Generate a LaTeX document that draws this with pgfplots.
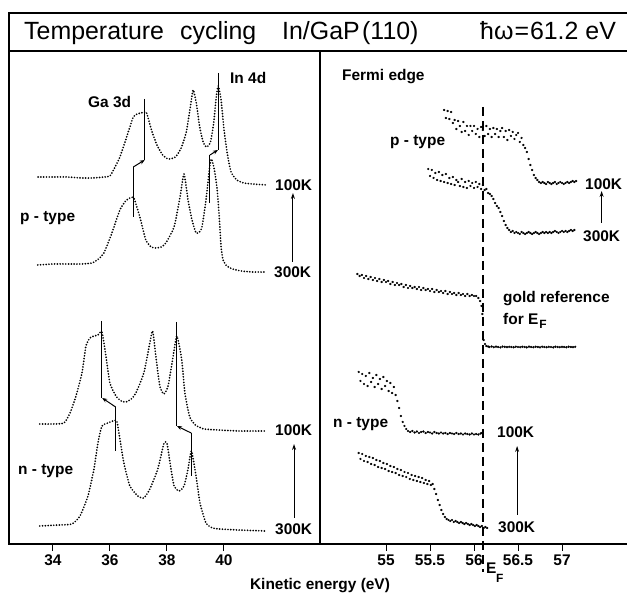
\documentclass[border=0pt]{standalone}
\usepackage{fontspec}
\setmainfont{Liberation Sans}
\usepackage{pgfplots}
\pgfplotsset{compat=1.18}
\usetikzlibrary{arrows.meta}
\newcommand\lab{\fontsize{15.5}{17}\selectfont\bfseries}
\newcommand\ttl{\fontsize{25}{28}\selectfont}
\pgfplotsset{
  panel/.style={scale only axis, height=493bp, ymin=0, ymax=493,
    clip=false, ytick=\empty, tick pos=left,
    tick align=outside, major tick length=7bp,
    tick style={line width=1bp, black},
    axis line style={line width=1.1bp},
    xticklabel style={font=\lab},
    /pgf/number format/assume math mode=true},
  dcurve/.style={black, line width=1.9bp, line cap=round, dash pattern=on 0bp off 2.8bp, smooth, tension=0.35, mark=none},
  scat/.style={black, only marks, mark=*, mark size=0.95bp},
  mline/.style={black, line width=1bp, mark=none, sharp plot},
  jarrow/.style={black, line width=1bp, mark=none, -{Stealth[length=5bp,width=4bp]}},
  uparrow/.style={black, line width=1bp, mark=none, -{Stealth[length=6bp,width=4bp]}}
}
\begin{document}
\begin{tikzpicture}[x=1bp,y=1bp]
\path[use as bounding box] (0,0) rectangle (627,596);
% title frame
\draw[line width=1.1bp] (628,583) -- (9,583) -- (9,545);

% title
\node[anchor=base west, inner sep=0, font=\ttl] at (24,556.7) {Temperature};
\node[anchor=base west, inner sep=0, font=\ttl] at (180,556.7) {cycling};
\node[anchor=base west, inner sep=0, font=\ttl] at (282,556.7) {In/GaP};
\node[anchor=base west, inner sep=0, font=\ttl] at (362,556.7) {(110)};
\node[anchor=base west, inner sep=0, font=\ttl] at (480,556.7) {ħω\kern1bp=\kern1bp61.2 eV};

% ---------------- left panel ----------------
\begin{scope}[shift={(9,52)}]
\begin{axis}[panel, width=311bp, xmin=32.46, xmax=43.37, xtick={34,36,38,40}]
% p-type 100K
\addplot[dcurve] coordinates {(33.48,367) (34.0,367) (34.5,367) (35.0,366) (35.4,366) (35.8,367) (36.0,368) (36.18,377) (36.35,387) (36.53,402) (36.7,417) (36.82,427) (36.95,430) (37.1,431) (37.27,432) (37.36,424) (37.48,412) (37.65,399) (37.85,389) (38.05,385) (38.3,387) (38.5,396) (38.68,412) (38.82,437) (38.92,454) (39.03,441) (39.15,417) (39.27,402) (39.38,397) (39.52,401) (39.64,421) (39.73,447) (39.8,458) (39.9,444) (40.0,415) (40.12,390) (40.25,372) (40.45,364) (40.7,361) (41.0,360) (41.5,359)};
% p-type 300K
\addplot[dcurve] coordinates {(33.47,279) (34.0,280) (34.5,280) (35.0,280) (35.37,281) (35.6,285) (35.79,291) (36.07,311) (36.35,334) (36.55,343) (36.7,346) (36.84,346) (37.05,327) (37.26,304) (37.45,297) (37.61,296) (37.8,297) (37.96,301) (38.25,317) (38.46,347) (38.6,370) (38.74,344) (38.88,324) (39.02,311) (39.14,312) (39.23,317) (39.37,344) (39.5,377) (39.56,385) (39.66,375) (39.76,355) (39.84,325) (39.9,297) (39.97,284) (40.1,278) (40.3,275) (40.6,273) (41.0,272) (41.47,272)};
% n-type 100K
\addplot[dcurve] coordinates {(33.54,120) (34.0,120) (34.39,121) (34.6,131) (34.81,148) (35.02,171) (35.16,198) (35.3,206) (35.45,208) (35.58,209) (35.72,212) (35.86,188) (36.0,161) (36.21,148) (36.4,143) (36.56,142) (36.75,145) (36.91,151) (37.19,171) (37.4,201) (37.5,213) (37.61,188) (37.75,158) (37.89,150) (38.04,158) (38.22,188) (38.35,208) (38.52,184) (38.63,151) (38.8,127) (39.0,119) (39.3,115) (39.8,114) (40.56,113) (41.47,113)};
% n-type 300K
\addplot[dcurve] coordinates {(33.54,18) (34.2,19) (34.67,20) (34.95,28) (35.23,48) (35.44,75) (35.58,101) (35.72,118) (35.93,121) (36.1,123) (36.24,123) (36.35,105) (36.49,81) (36.7,58) (36.98,48) (37.19,46) (37.4,55) (37.68,75) (37.89,100) (38.0,101) (38.11,81) (38.25,58) (38.43,53) (38.6,58) (38.74,75) (38.86,93) (39.02,68) (39.16,41) (39.37,21) (39.6,16) (39.86,15) (40.5,14) (41.47,13)};
% peak-shift marker lines
\addplot[mline] coordinates {(37.23,445) (37.23,384)};
\addplot[mline] coordinates {(36.82,377) (36.82,327)};
\addplot[jarrow] coordinates {(36.82,377) (37.22,384)};
\addplot[mline] coordinates {(39.80,471) (39.80,394)};
\addplot[mline] coordinates {(39.51,389) (39.51,341)};
\addplot[jarrow] coordinates {(39.51,389) (39.79,394)};
\addplot[mline] coordinates {(35.72,223) (35.72,146)};
\addplot[mline] coordinates {(36.2,137) (36.2,93)};
\addplot[jarrow] coordinates {(36.2,137) (35.73,146)};
\addplot[mline] coordinates {(38.34,222) (38.34,118)};
\addplot[mline] coordinates {(38.85,111) (38.85,68)};
\addplot[jarrow] coordinates {(38.85,111) (38.35,118)};
% temperature arrows
\addplot[uparrow] coordinates {(42.42,282) (42.42,351)};
\addplot[uparrow] coordinates {(42.46,26) (42.46,100)};
\end{axis}
\end{scope}

% ---------------- right panel ----------------
\begin{scope}[shift={(320,52)}]
\begin{axis}[panel, width=308bp, xmin=54.25, xmax=57.75, xtick={55,55.5,56,56.5,57}, xticklabels={55,55.5,56,56.5,57}]
% E_F line
\addplot[black, line width=1.5bp, dash pattern=on 9bp off 5bp, mark=none] coordinates {(56.10,437) (56.10,-28)};
% p-type 100K
\addplot[scat] coordinates {(55.66,434) (55.68,426) (55.70,433) (55.72,425) (55.74,432) (55.76,421) (55.78,424) (55.80,415) (55.82,423) (55.84,418) (55.86,412) (55.88,422) (55.90,413) (55.92,418) (55.94,409) (55.96,418) (55.98,413) (56.00,418) (56.02,410) (56.04,415) (56.06,407) (56.08,417) (56.10,414) (56.12,408) (56.14,418) (56.16,410) (56.18,415) (56.20,407) (56.22,416) (56.24,410) (56.26,415) (56.28,407) (56.30,413) (56.32,416) (56.34,407) (56.36,413) (56.38,404) (56.40,414) (56.42,408) (56.44,412) (56.46,405) (56.48,409) (56.50,411) (56.52,402) (56.54,406) (56.56,399) (56.58,396) (56.60,392) (56.62,385) (56.64,379) (56.66,374) (56.68,369) (56.70,366) (56.72,364) (56.74,362) (56.76,361) (56.78,362) (56.80,361) (56.82,360) (56.84,362) (56.86,361) (56.88,360) (56.90,361) (56.92,362) (56.94,360) (56.96,361) (56.98,362) (57.00,361) (57.02,360) (57.04,361) (57.06,362) (57.08,361) (57.10,362) (57.12,363) (57.14,362) (57.16,363)};
% p-type 300K
\addplot[scat] coordinates {(55.48,375) (55.50,368) (55.52,374) (55.54,366) (55.56,371) (55.58,364) (55.60,372) (55.62,363) (55.64,369) (55.66,362) (55.68,370) (55.70,361) (55.72,366) (55.74,360) (55.76,367) (55.78,359) (55.80,364) (55.82,362) (55.84,358) (55.86,365) (55.88,357) (55.90,362) (55.92,356) (55.94,363) (55.96,358) (55.98,361) (56.00,356) (56.02,362) (56.04,357) (56.06,360) (56.08,355) (56.10,359) (56.12,354) (56.14,355) (56.16,351) (56.18,350) (56.20,348) (56.22,345) (56.24,341) (56.26,338) (56.28,336) (56.30,332) (56.32,328) (56.34,323) (56.36,319) (56.38,316) (56.40,314) (56.42,312) (56.44,313) (56.46,311) (56.48,312) (56.50,311) (56.52,310) (56.54,312) (56.56,311) (56.58,310) (56.60,311) (56.62,312) (56.64,311) (56.66,310) (56.68,311) (56.70,312) (56.72,311) (56.74,310) (56.76,311) (56.78,312) (56.80,311) (56.82,312) (56.84,311) (56.86,312) (56.88,311) (56.90,312) (56.92,313) (56.94,312) (56.96,311) (56.98,312) (57.00,313) (57.02,312) (57.04,313) (57.06,312) (57.08,313) (57.10,314) (57.12,313) (57.14,314)};
% gold reference
\addplot[scat] coordinates {(54.675,270) (54.70,268) (54.725,269) (54.75,266) (54.775,268) (54.80,265) (54.825,267) (54.85,264) (54.875,266) (54.90,263) (54.925,265) (54.95,262) (54.975,264) (55.00,262) (55.025,263) (55.05,260) (55.075,262) (55.10,259) (55.125,261) (55.15,259) (55.175,260) (55.20,257) (55.225,259) (55.25,256) (55.275,258) (55.30,256) (55.325,257) (55.35,255) (55.375,257) (55.40,254) (55.425,256) (55.45,254) (55.475,255) (55.50,253) (55.525,255) (55.55,252) (55.575,254) (55.60,252) (55.625,253) (55.65,251) (55.675,253) (55.70,250) (55.725,252) (55.75,250) (55.775,251) (55.80,249) (55.825,251) (55.85,249) (55.875,250) (55.90,248) (55.925,250) (55.95,248) (55.975,249) (56.00,248) (56.025,248) (56.05,246) (56.07,243) (56.085,238) (56.095,230) (56.11,204) (56.125,200) (56.14,198) (56.16,197.5) (56.175,197) (56.20,197.5) (56.225,196.8) (56.25,197.3) (56.275,197) (56.30,196.6) (56.325,197.4) (56.35,197.1) (56.375,196.8) (56.40,197.2) (56.425,197) (56.45,196.7) (56.475,197.3) (56.50,197) (56.525,196.8) (56.55,197.2) (56.575,197) (56.60,196.6) (56.625,197.3) (56.65,197) (56.675,196.8) (56.70,197.2) (56.725,197) (56.75,196.7) (56.775,197.3) (56.80,197) (56.825,196.8) (56.85,197.2) (56.875,197) (56.90,196.6) (56.925,197.3) (56.95,197) (56.975,196.8) (57.00,197.2) (57.025,197) (57.05,196.7) (57.075,197.3) (57.10,197) (57.125,196.8) (57.15,197.2)};
% n-type 100K
\addplot[scat] coordinates {(54.69,172) (54.71,163) (54.73,170) (54.75,160) (54.77,168) (54.79,158) (54.81,171) (54.83,162) (54.85,166) (54.87,157) (54.89,169) (54.91,160) (54.93,165) (54.95,155) (54.97,167) (54.99,158) (55.01,163) (55.03,153) (55.05,161) (55.07,151) (55.09,157) (55.11,149) (55.13,143) (55.15,136) (55.17,128) (55.19,122) (55.21,118) (55.23,115) (55.25,113) (55.275,112) (55.30,113) (55.325,111.5) (55.35,112.5) (55.375,111) (55.40,112) (55.425,112.5) (55.45,111) (55.475,112) (55.50,111.5) (55.525,110.5) (55.55,112) (55.575,111) (55.60,110.5) (55.625,111.5) (55.65,110.5) (55.675,111) (55.70,110) (55.725,111) (55.75,110.5) (55.775,110) (55.80,111) (55.825,110) (55.85,110.5) (55.875,109.5) (55.90,110.5) (55.925,110) (55.95,109.5) (55.975,110.5) (56.00,109.5) (56.025,110) (56.05,109.5) (56.075,110.5) (56.09,111)};
% n-type 300K
\addplot[scat] coordinates {(54.69,91) (54.71,85) (54.73,90) (54.75,83) (54.77,88) (54.79,82) (54.81,87) (54.83,80) (54.85,86) (54.87,79) (54.89,84) (54.91,77) (54.93,83) (54.95,76) (54.97,81) (54.99,75) (55.01,80) (55.03,73) (55.05,78) (55.07,72) (55.09,77) (55.11,71) (55.13,75) (55.15,69) (55.17,74) (55.19,68) (55.21,72) (55.23,67) (55.25,71) (55.27,65) (55.29,69) (55.31,64) (55.33,68) (55.35,63) (55.37,67) (55.39,62) (55.41,66) (55.43,61) (55.45,64) (55.47,60) (55.49,63) (55.51,59) (55.53,60) (55.55,55) (55.57,50) (55.59,44) (55.61,39) (55.63,34) (55.65,30) (55.67,27) (55.69,25) (55.71,24) (55.73,23) (55.75,24) (55.77,22) (55.79,23) (55.81,22) (55.83,21) (55.85,22) (55.87,21) (55.89,20) (55.91,21) (55.93,20) (55.95,19) (55.97,20) (55.99,19) (56.01,18) (56.03,19) (56.05,18) (56.07,17) (56.09,18) (56.11,16) (56.13,17) (56.15,16)};
% temperature arrows
\addplot[uparrow] coordinates {(57.45,321) (57.45,353)};
\addplot[uparrow] coordinates {(56.49,29) (56.49,98)};
\end{axis}
\end{scope}

% labels left
\node[anchor=base west, inner sep=0, font=\lab] at (88,488) {Ga 3d};
\node[anchor=base west, inner sep=0, font=\lab] at (230,512) {In 4d};
\node[anchor=base west, inner sep=0, font=\lab] at (20,374) {p - type};
\node[anchor=base west, inner sep=0, font=\lab] at (275,405) {100K};
\node[anchor=base west, inner sep=0, font=\lab] at (274,318) {300K};
\node[anchor=base west, inner sep=0, font=\lab] at (18,121) {n - type};
\node[anchor=base west, inner sep=0, font=\lab] at (275,160) {100K};
\node[anchor=base west, inner sep=0, font=\lab] at (275,61) {300K};
% labels right
\node[anchor=base west, inner sep=0, font=\lab] at (342,515) {Fermi edge};
\node[anchor=base west, inner sep=0, font=\lab] at (390,450) {p - type};
\node[anchor=base west, inner sep=0, font=\lab] at (585,406) {100K};
\node[anchor=base west, inner sep=0, font=\lab] at (583,354) {300K};
\node[anchor=base west, inner sep=0, font=\lab] at (503,293) {gold reference};
\node[anchor=base west, inner sep=0, font=\lab] at (503,271) {for E\kern1bp\raisebox{-4bp}{\fontsize{12}{12}\selectfont F}};
\node[anchor=base west, inner sep=0, font=\lab] at (333,168) {n - type};
\node[anchor=base west, inner sep=0, font=\lab] at (497,158) {100K};
\node[anchor=base west, inner sep=0, font=\lab] at (498,63) {300K};
% axis title and E_F
\node[anchor=base, inner sep=0, font=\lab] at (320,6) {Kinetic energy (eV)};
\node[anchor=base west, inner sep=0, font=\lab] at (486,22) {E};
\node[anchor=base west, inner sep=0, font=\fontsize{12}{12}\selectfont\bfseries] at (496,13) {F};
\end{tikzpicture}
\end{document}
